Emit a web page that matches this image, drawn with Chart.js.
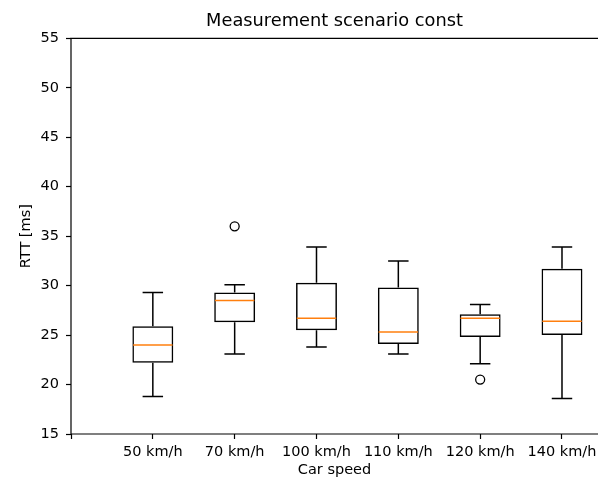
<!DOCTYPE html>
<html>
<head>
<meta charset="utf-8">
<script src="https://cdn.jsdelivr.net/npm/chart.js@4/dist/chart.umd.min.js"></script>
<style>
  html, body { margin: 0; padding: 0; background: #fff; overflow: hidden; }
  canvas { display: block; width: 598px; height: 479px; }
</style>
</head>
<body>
<canvas id="box-chart" width="598" height="479"></canvas>
<script>
const categories = ["50 km/h", "70 km/h", "100 km/h", "110 km/h", "120 km/h", "140 km/h"];
const whiskerLow = [18.8, 23.1, 23.8, 23.1, 22.1, 18.6];
const q1 = [22.2, 26.3, 25.5, 24.1, 24.8, 25.0];
const median = [24.0, 28.5, 26.7, 25.3, 26.7, 26.4];
const q3 = [25.9, 29.3, 30.3, 29.8, 27.1, 31.7];
const whiskerHigh = [29.3, 30.1, 33.9, 32.5, 28.1, 33.9];
const outliers = [[], [36.0], [], [], [20.5], []];
const yTicks = [15, 20, 25, 30, 35, 40, 45, 50, 55];

const FONT = "'DejaVu Sans', sans-serif";

const boxData = categories.map((c, i) => ({ x: i + 1, y: [q1[i], q3[i]] }));
const outlierData = [];
outliers.forEach((list, i) => {
  list.forEach(v => outlierData.push({ x: i + 1, y: v }));
});

// whiskers, caps, medians and frame (right edge is cut off in the original)
const boxExtras = {
  id: "boxExtras",
  afterDatasetsDraw(chart) {
    const ctx = chart.ctx;
    const xs = chart.scales.x;
    const ys = chart.scales.y;
    const meta = chart.getDatasetMeta(0);
    ctx.save();
    meta.data.forEach((bar, i) => {
      const cx = xs.getPixelForValue(i + 1);
      const half = bar.width / 2;
      const capHalf = bar.width / 4;
      ctx.lineWidth = 1.5;
      ctx.strokeStyle = "#000";
      ctx.beginPath();
      ctx.moveTo(cx, ys.getPixelForValue(q1[i]));
      ctx.lineTo(cx, ys.getPixelForValue(whiskerLow[i]));
      ctx.moveTo(cx, ys.getPixelForValue(q3[i]));
      ctx.lineTo(cx, ys.getPixelForValue(whiskerHigh[i]));
      ctx.moveTo(cx - capHalf, ys.getPixelForValue(whiskerLow[i]));
      ctx.lineTo(cx + capHalf, ys.getPixelForValue(whiskerLow[i]));
      ctx.moveTo(cx - capHalf, ys.getPixelForValue(whiskerHigh[i]));
      ctx.lineTo(cx + capHalf, ys.getPixelForValue(whiskerHigh[i]));
      ctx.stroke();
      ctx.strokeStyle = "#ff7f0e";
      ctx.beginPath();
      ctx.moveTo(cx - half + 0.75, ys.getPixelForValue(median[i]));
      ctx.lineTo(cx + half - 0.75, ys.getPixelForValue(median[i]));
      ctx.stroke();
    });
    const a = chart.chartArea;
    ctx.strokeStyle = "#000";
    ctx.lineWidth = 1.2;
    ctx.beginPath();
    ctx.moveTo(chart.width, a.top);
    ctx.lineTo(a.left, a.top);
    ctx.lineTo(a.left, a.bottom);
    ctx.lineTo(chart.width, a.bottom);
    ctx.stroke();
    ctx.restore();
  }
};

new Chart(document.getElementById("box-chart").getContext("2d"), {
  type: "bar",
  data: {
    datasets: [
      {
        type: "bar",
        data: boxData,
        backgroundColor: "rgba(0,0,0,0)",
        borderColor: "#000",
        borderWidth: 1.5,
        borderSkipped: false,
        barPercentage: 0.5,
        categoryPercentage: 1.0,
      },
      {
        type: "scatter",
        data: outlierData,
        pointStyle: "circle",
        pointRadius: 4.5,
        pointBorderWidth: 1.3,
        pointBorderColor: "#000",
        pointBackgroundColor: "rgba(0,0,0,0)",
      },
    ],
  },
  options: {
    responsive: false,
    animation: false,
    events: [],
    layout: { padding: 0, autoPadding: false },
    plugins: {
      legend: { display: false },
      tooltip: { enabled: false },
      title: {
        display: true,
        fullSize: false,
        text: "Measurement scenario const",
        color: "#000",
        font: { family: FONT, size: 17.8, weight: "normal" },
        padding: { top: 11, bottom: 6 },
      },
    },
    scales: {
      x: {
        type: "linear",
        offset: false,
        min: 0,
        max: 6.44,
        afterBuildTicks(scale) {
          scale.ticks = [0, 1, 2, 3, 4, 5, 6].map(v => ({ value: v }));
        },
        afterFit(scale) {
          scale.height = 45;
          scale.paddingLeft = 0;
          scale.paddingRight = 0;
        },
        ticks: {
          autoSkip: false,
          maxRotation: 0,
          color: "#000",
          padding: 5,
          font: { family: FONT, size: 14.5 },
          callback: (v) => (v >= 1 && v <= categories.length ? categories[v - 1] : ""),
        },
        grid: { offset: false, drawOnChartArea: false, drawTicks: true, tickLength: 5, tickColor: "#000", tickWidth: 1.2 },
        border: { display: false },
        title: {
          display: true,
          text: "Car speed",
          color: "#000",
          font: { family: FONT, size: 14.5 },
          padding: { top: 0, bottom: 0 },
        },
      },
      y: {
        min: 15,
        max: 55,
        afterBuildTicks(scale) {
          scale.ticks = yTicks.map(v => ({ value: v }));
        },
        afterFit(scale) { scale.width = 71; },
        ticks: {
          color: "#000",
          padding: 7,
          font: { family: FONT, size: 14.5 },
        },
        grid: { drawOnChartArea: false, drawTicks: true, tickLength: 5, tickColor: "#000", tickWidth: 1.2 },
        border: { display: false },
        title: {
          display: true,
          text: "RTT [ms]",
          color: "#000",
          font: { family: FONT, size: 14.5 },
          padding: { top: 18, bottom: 0 },
        },
      },
    },
  },
  plugins: [boxExtras],
});
</script>
</body>
</html>
